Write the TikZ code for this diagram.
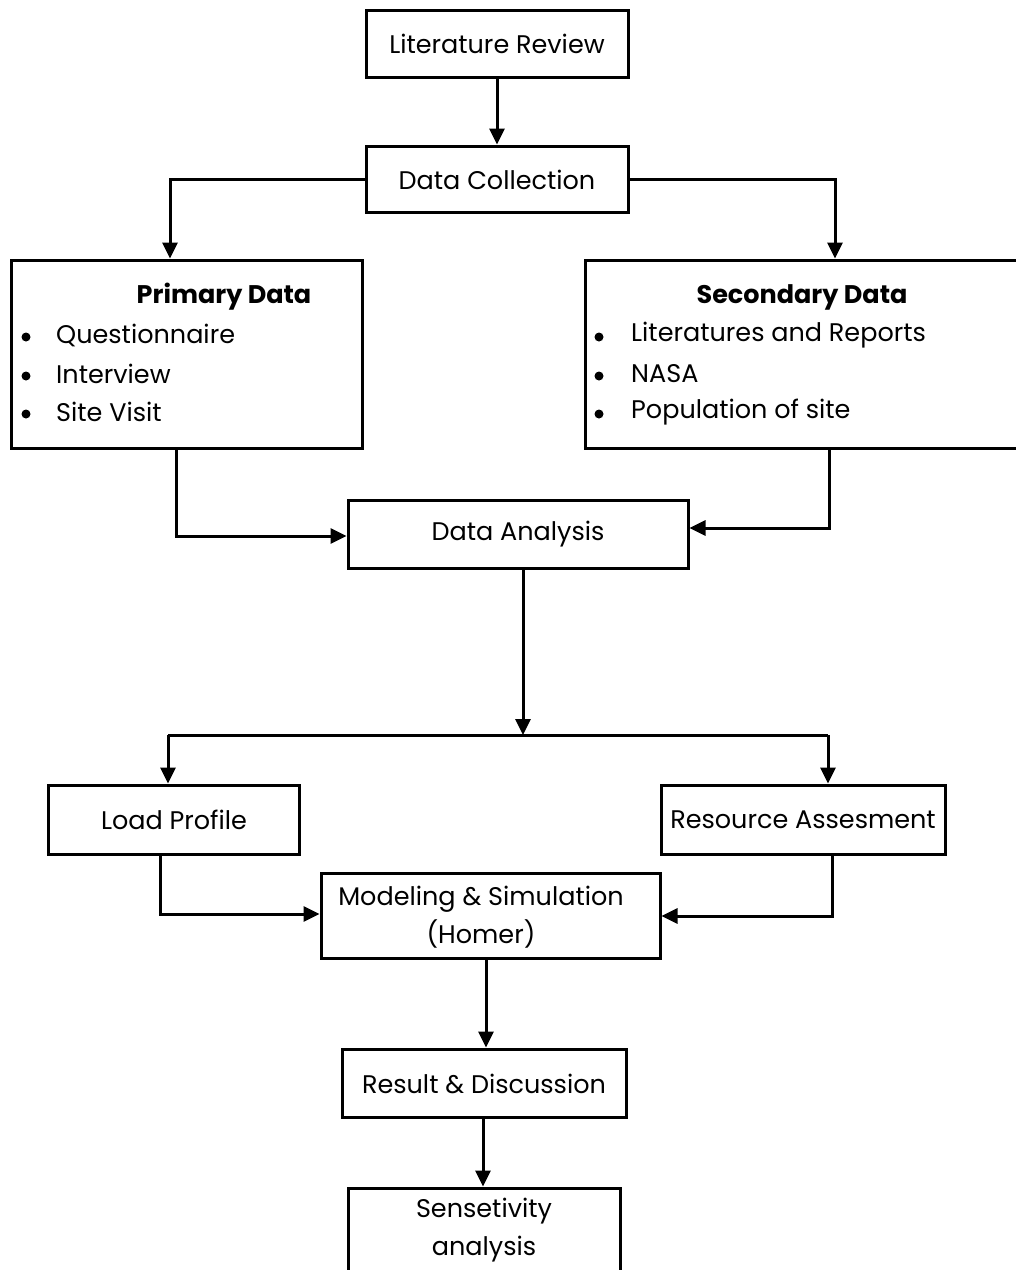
\documentclass[tikz,border=0pt]{standalone}
\usepackage{fontspec}
\setmainfont{Poppins}
\usetikzlibrary{arrows.meta}
\begin{document}
\begin{tikzpicture}[x=1pt,y=-1pt,
  box/.style={draw, line width=3pt, inner sep=0pt, fill=white},
  txt/.style={inner sep=0pt, font=\fontsize{25.5}{38}\selectfont, align=center},
  lst/.style={inner sep=0pt, font=\fontsize{25.5}{38}\selectfont, anchor=west},
  dot/.style={circle, fill, inner sep=0pt, minimum size=9pt},
  conn/.style={line width=3pt, -{Triangle[length=16pt,width=15pt]}},
  plain/.style={line width=3pt}]
\useasboundingbox (0,0) rectangle (1016,1270);
\clip (0,0) rectangle (1016,1270);
% boxes
\node[box, minimum width=262, minimum height=67] (lr) at (497,43.5) {};
\node[txt] (lrt) at (497,44) {Literature Review};
\node[box, minimum width=262, minimum height=66] (dc) at (497,179) {};
\node[txt] (dct) at (497,180) {Data Collection};
\node[box, minimum width=351, minimum height=188] (pd) at (186.5,354) {};
\node[box, minimum width=460, minimum height=188] (sd) at (815,354) {};
\node[box, minimum width=340, minimum height=68] (da) at (518,534) {};
\node[txt] (dat) at (518,534) {Data Analysis};
\node[box, minimum width=251, minimum height=69] (lp) at (173.5,819.5) {};
\node[txt] (lpt) at (174,820) {Load Profile};
\node[box, minimum width=284, minimum height=69] (ra) at (803,819.5) {};
\node[txt] (rat) at (803,820) {Resource Assesment};
\node[box, minimum width=339, minimum height=85] (ms) at (490.5,915.5) {};
\node[txt] (mst) at (481,917) {Modeling \& Simulation\\(Homer)};
\node[box, minimum width=284, minimum height=68] (rd) at (484,1083) {};
\node[txt] (rdt) at (484,1084) {Result \& Discussion};
\node[box, minimum width=272, minimum height=110] (sa) at (484,1243) {};
\node[txt] (sat) at (484,1230) {Sensetivity\\analysis};
% list texts
\node[txt, font=\fontsize{25.5}{38}\selectfont\bfseries] (pdh) at (224,297) {Primary Data};
\node[dot] (pb1) at (26,337) {};
\node[dot] (pb2) at (26,376) {};
\node[dot] (pb3) at (26,414) {};
\node[lst] (pi1) at (56,335) {Questionnaire};
\node[lst] (pi2) at (56,374) {Interview};
\node[lst] (pi3) at (56,412) {Site Visit};
\node[txt, font=\fontsize{25.5}{38}\selectfont\bfseries] (sdh) at (802,297) {Secondary Data};
\node[dot] (sb1) at (599,337) {};
\node[dot] (sb2) at (599,376) {};
\node[dot] (sb3) at (599,414) {};
\node[lst] (si1) at (631,335) {Literatures and Reports};
\node[lst] (si2) at (631,374) {NASA};
\node[lst] (si3) at (631,412) {Population of site};
% helper coordinates
\coordinate (split) at (523,735);
\coordinate (splitL) at (168,735);
\coordinate (splitR) at (828,735);
% connectors
\draw[conn] (lr.south) -- (dc.north);
\draw[conn] (dc.west) -| (pd.north -| 170,0);
\draw[conn] (dc.east) -| (sd.north -| 835,0);
\draw[conn] (pd.south -| 176,0) |- (da.west |- 0,536);
\draw[conn] (sd.south -| 829,0) |- (da.east |- 0,528);
\draw[conn] (da.south -| split) -- (split);
\draw[plain] (splitL) -- (splitR);
\draw[conn] (splitL) -- (lp.north -| splitL);
\draw[conn] (splitR) -- (ra.north -| splitR);
\draw[conn] (lp.south -| 160,0) |- (ms.west |- 0,914);
\draw[conn] (ra.south -| 832,0) |- (ms.east |- 0,916);
\draw[conn] (ms.south -| 486,0) -- (rd.north -| 486,0);
\draw[conn] (rd.south -| 483,0) -- (sa.north -| 483,0);
\end{tikzpicture}
\end{document}
